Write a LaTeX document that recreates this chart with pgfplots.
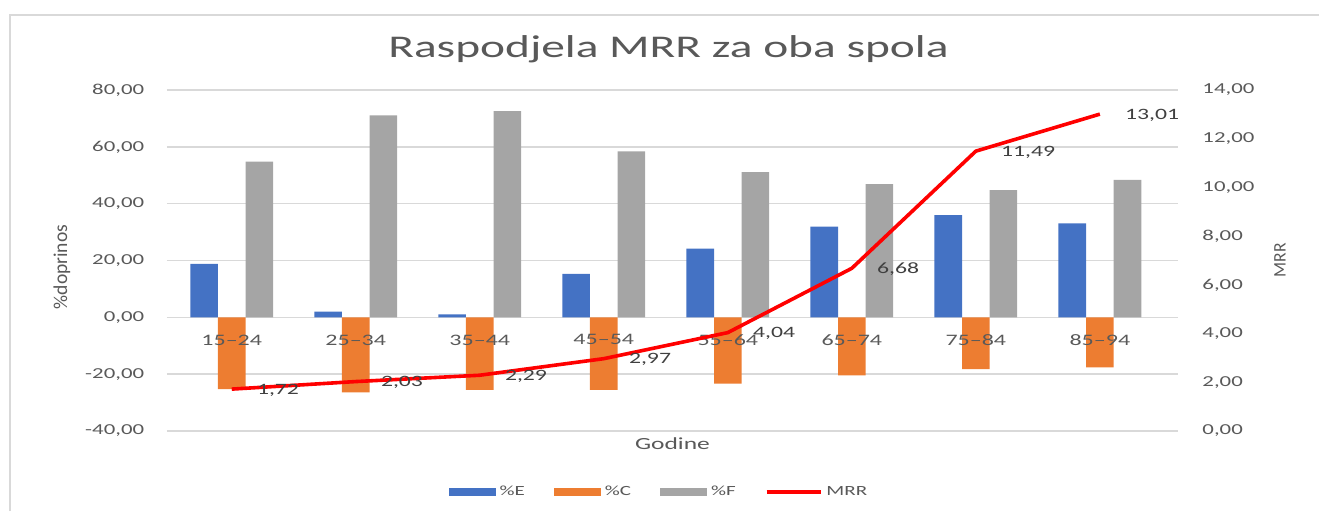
\documentclass[border=0pt]{standalone}
\usepackage{pgfplots}
\pgfplotsset{compat=1.18}
\usepackage{fontspec}
\setmainfont{Carlito}[FakeStretch=1.5]
\newfontfamily\rotfont{Carlito}
\definecolor{cE}{HTML}{4472C4}
\definecolor{cC}{HTML}{ED7D31}
\definecolor{cF}{HTML}{A5A5A5}
\definecolor{gridc}{HTML}{D9D9D9}
\definecolor{txt}{HTML}{595959}
\definecolor{lbl}{HTML}{404040}
\pgfplotsset{
  barleg/.style={legend image code/.code={\fill[##1] (0pt,-2.2pt) rectangle (23.5pt,2.2pt);}},
  lineleg/.style={legend image code/.code={\draw[##1] (0pt,0pt) -- (27pt,0pt);}},
  numfmt/.style={/pgf/number format/fixed, /pgf/number format/fixed zerofill,
    /pgf/number format/precision=2, /pgf/number format/use comma,
    /pgf/number format/1000 sep={}, /pgf/number format/assume math mode=true},
}
\begin{document}
\begin{tikzpicture}
\useasboundingbox (-83.5pt,-40pt) rectangle (576pt,215.5pt);
\draw[gridc, line width=0.75pt] (-78.5pt,-40pt) -- (-78.5pt,208pt) -- (576pt,208pt);
\node[anchor=base, text=txt, font=\fontsize{15.8}{18}\selectfont] at (250.75pt,187pt) {Raspodjela MRR za oba spola};
\begin{axis}[
  at={(0pt,0pt)}, anchor=south west,
  scale only axis, width=505.5pt, height=170.5pt,
  xmin=-0.522, xmax=7.63, ymin=-40, ymax=80,
  ytick={-40,-20,...,80},
  xtick={0,...,7},
  xticklabels={},
  axis x line=middle,
  every inner x axis line/.append style={-},
  x axis line style={draw=gridc, line width=0.75pt, -},
  y axis line style={draw=none},
  major tick length=0pt,
  ymajorgrids, grid style={draw=gridc, line width=0.75pt},
  yticklabel style={font=\fontsize{7.6}{9}\selectfont, text=txt, xshift=-7.9pt, numfmt},
  ybar=0pt, bar width=13.8pt,
  ylabel={\%doprinos},
  ylabel style={at={(axis description cs:-0.104,0.481)}, anchor=center, font=\rotfont\fontsize{9.8}{11}\selectfont, text=txt},
  xlabel={Godine},
  xlabel style={at={(axis description cs:0.5,-0.038)}, anchor=center, font=\fontsize{8.5}{10}\selectfont, text=txt},
  legend style={at={(axis description cs:0.4876,-0.179)}, anchor=center, draw=none, fill=none,
    legend columns=4, font=\fontsize{7}{8}\selectfont, text=txt,
    /tikz/every even column/.append style={column sep=12.5pt}},
]
\addplot[fill=cE, draw=none, barleg] coordinates {(0,18.8) (1,2.0) (2,1.05) (3,15.3) (4,24.2) (5,31.9) (6,36.0) (7,33.1)};
\addlegendentry{\%E}
\addplot[fill=cC, draw=none, barleg] coordinates {(0,-25.3) (1,-26.4) (2,-25.5) (3,-25.5) (4,-23.3) (5,-20.4) (6,-18.2) (7,-17.6)};
\addlegendentry{\%C}
\addplot[fill=cF, draw=none, barleg] coordinates {(0,54.8) (1,71.1) (2,72.6) (3,58.4) (4,51.1) (5,46.9) (6,44.8) (7,48.4)};
\addlegendentry{\%F}
\addlegendimage{red, line width=1.8pt, lineleg}
\addlegendentry{MRR}
\end{axis}
\begin{axis}[
  at={(0pt,0pt)}, anchor=south west,
  scale only axis, width=505.5pt, height=170.5pt,
  xmin=-0.522, xmax=7.63, ymin=0, ymax=14,
  ytick={0,2,...,14},
  xtick={0,...,7},
  xticklabels={15--24,25--34,35--44,45--54,55--64,65--74,75--84,85--94},
  xticklabel pos=bottom,
  xticklabel style={font=\fontsize{8}{9}\selectfont, text=txt, yshift=51.7pt},
  x axis line style={draw=none},
  axis y line*=right,
  y axis line style={draw=none},
  major tick length=0pt,
  clip=false,
  yticklabel style={font=\fontsize{7.6}{9}\selectfont, text=txt, anchor=west, xshift=8.7pt, numfmt},
  ylabel={MRR},
  ylabel style={at={(axis description cs:1.1009,0.501)}, anchor=center, rotate=0, font=\rotfont\fontsize{8.8}{10}\selectfont, text=txt},
]
\addplot[red, line width=1.8pt, line join=round, mark=none, nodes near coords, point meta=explicit symbolic,
  every node near coord/.append style={anchor=west, xshift=8.4pt, yshift=-0.5pt, font=\fontsize{7.9}{9}\selectfont, text=lbl}]
  table[meta=lab] {
x y lab
0 1.72 1,72
1 2.03 2,03
2 2.29 2,29
3 2.97 2,97
4 4.04 4,04
5 6.68 6,68
6 11.49 11,49
7 13.01 13,01
};
\end{axis}
\end{tikzpicture}
\end{document}
